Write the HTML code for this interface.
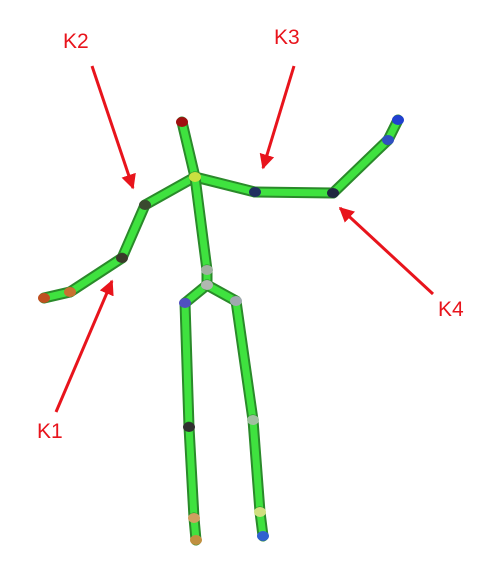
<!DOCTYPE html>
<html>
<head>
<meta charset="utf-8">
<style>
  html, body { margin: 0; padding: 0; background: #fff; }
  svg { display: block; }
  text { font-family: "Liberation Sans", sans-serif; font-size: 21px; fill: #e8141c; }
</style>
</head>
<body>
<svg width="488" height="584" viewBox="0 0 488 584">
  <defs>
    <marker id="ah" viewBox="0 0 10 10" refX="9" refY="5" markerWidth="5" markerHeight="5" orient="auto">
      <path d="M0,0 L10,5 L0,10 z" fill="#e8141c"/>
    </marker>
  </defs>
  <g id="bones"></g>
  <g id="joints"></g>

  <g>
    <text x="63" y="48">K2</text>
    <line x1="92" y1="66" x2="133" y2="188" stroke="#e8141c" stroke-width="3" marker-end="url(#ah)"/>
    <text x="274" y="44">K3</text>
    <line x1="294" y1="66" x2="263" y2="168" stroke="#e8141c" stroke-width="3" marker-end="url(#ah)"/>
    <text x="438" y="316">K4</text>
    <line x1="433" y1="294" x2="340" y2="208" stroke="#e8141c" stroke-width="3" marker-end="url(#ah)"/>
    <text x="37" y="438">K1</text>
    <line x1="56" y1="412" x2="112" y2="281" stroke="#e8141c" stroke-width="3" marker-end="url(#ah)"/>
  </g>
</svg>
<script>
const jointNames = ["head","neck","l-shoulder","l-elbow","l-wrist","l-hand","r-shoulder","r-elbow","r-wrist","r-hand","hip-top","hip-center","l-hip","r-hip","l-knee","l-ankle","l-foot","r-knee","r-ankle","r-foot"];
const jointX = [182,195,145,122,70,44,255,333,388,398,207,207,185,236,189,194,196,253,260,263];
const jointY = [122,177,205,258,292,298,192,193,140,120,270,285,303,301,427,518,540,420,512,536];
const jointColor = ["#a01010","#c8e040","#3a4a30","#3a3a2a","#c87030","#c05020","#203060","#202840","#3050c0","#2040d0","#a0b0a0","#b0b8b0","#5050c0","#a0a8b0","#303030","#d0a060","#c09040","#a0c0a0","#d0e080","#3060d0"];
const boneFrom = [0,1,2,3,4,1,6,7,8,1,10,11,11,12,14,15,13,17,18];
const boneTo   = [1,2,3,4,5,6,7,8,9,10,11,12,13,14,15,16,17,18,19];
const NS = "http://www.w3.org/2000/svg";
const bones = document.getElementById("bones");
const joints = document.getElementById("joints");
for (let i = 0; i < boneFrom.length; i++) {
  const a = boneFrom[i], b = boneTo[i];
  const o = document.createElementNS(NS, "line");
  o.setAttribute("x1", jointX[a]); o.setAttribute("y1", jointY[a]);
  o.setAttribute("x2", jointX[b]); o.setAttribute("y2", jointY[b]);
  o.setAttribute("stroke", "#2a8a2a"); o.setAttribute("stroke-width", "11"); o.setAttribute("stroke-linecap", "round");
  
  
  bones.appendChild(o);
  const l = document.createElementNS(NS, "line");
  l.setAttribute("x1", jointX[a]); l.setAttribute("y1", jointY[a]);
  l.setAttribute("x2", jointX[b]); l.setAttribute("y2", jointY[b]);
  l.setAttribute("stroke", "#3fe23f"); l.setAttribute("stroke-width", "7"); l.setAttribute("stroke-linecap", "round");
  
  
  bones.appendChild(l);
}
for (let i = 0; i < jointX.length; i++) {
  const c = document.createElementNS(NS, "ellipse");
  c.setAttribute("cx", jointX[i]); c.setAttribute("cy", jointY[i]);
  c.setAttribute("rx", 6); c.setAttribute("ry", 5);
  c.setAttribute("fill", jointColor[i]);
  
  
  joints.appendChild(c);
}
</script>
</body>
</html>
